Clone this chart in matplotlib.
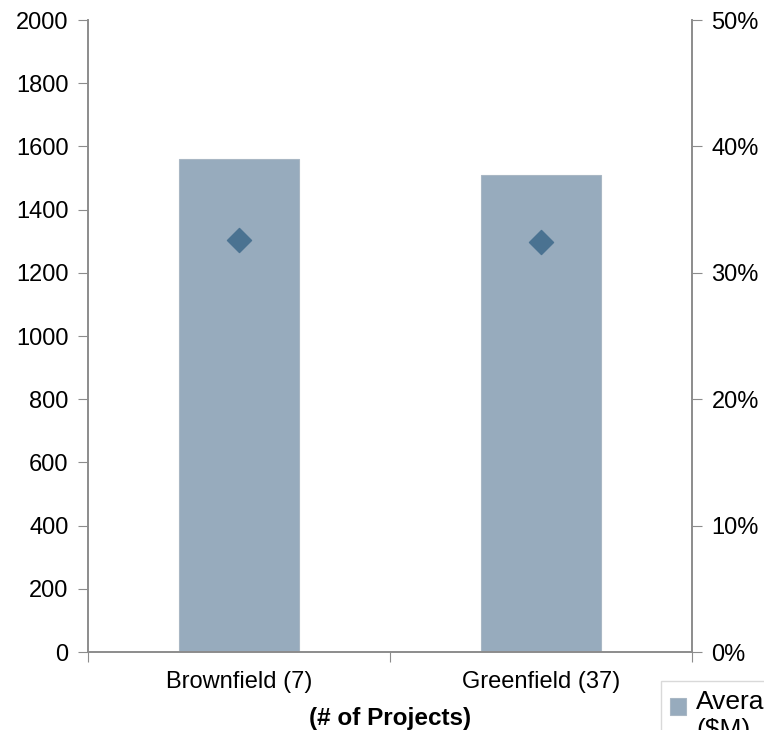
import numpy as np
import matplotlib.pyplot as plt

plt.rcParams['font.family'] = ['Liberation Sans', 'DejaVu Sans']

categories = ['Brownfield (7)', 'Greenfield (37)']
avg_cost = [1560, 1510]          # left axis, $M
overrun_pct = [32.6, 32.4]       # right axis, %
left_ticks = list(range(0, 2001, 200))
right_ticks = [0, 10, 20, 30, 40, 50]

bar_color = '#97abbd'
marker_color = '#4a7291'
axis_color = '#8c8c8c'

fig = plt.figure(figsize=(7.64, 7.30), dpi=100)
ax = fig.add_axes([0.1152, 0.1068, 0.7906, 0.8658])

x = np.arange(len(categories))
bars = ax.bar(x, avg_cost, width=0.4, color=bar_color, edgecolor='#a9b7c4',
              linewidth=0.8, zorder=2)
ax.set_xlim(-0.5, 1.5)
ax.set_ylim(0, 2000)
ax.set_yticks(left_ticks)
ax.set_xticks([-0.5, 0.5, 1.5])
ax.set_xticklabels([])
ax.set_xticks(x, minor=True)
ax.set_xticklabels(categories, minor=True)
ax.tick_params(axis='x', which='minor', length=0, pad=14, labelsize=17)
ax.tick_params(axis='x', which='major', length=7, direction='out', color=axis_color)
ax.tick_params(axis='y', length=7, direction='out', color=axis_color, labelsize=17, pad=7)
ax.set_xlabel('(# of Projects)', fontsize=17.5, fontweight='bold', labelpad=10)

ax2 = ax.twinx()
ax2.set_ylim(0, 50)
ax2.set_yticks(right_ticks)
ax2.set_yticklabels([f'{t}%' for t in right_ticks])
ax2.tick_params(axis='y', length=7, direction='out', color=axis_color, labelsize=17, pad=7)
ax2.scatter(x, overrun_pct, marker='D', s=150, color=marker_color, zorder=3)

for a in (ax, ax2):
    a.spines['top'].set_visible(False)
    for s in ('left', 'right', 'bottom'):
        a.spines[s].set_color(axis_color)
        a.spines[s].set_linewidth(1.2)

leg = fig.legend(handles=[bars], labels=['Average\n($M)'], loc='upper left',
                 bbox_to_anchor=(661 / 764, 1 - 681 / 730), fontsize=19,
                 frameon=True, fancybox=False, edgecolor='#d0d0d0',
                 handlelength=0.58, handleheight=0.58, handletextpad=0.4,
                 borderpad=0.35, borderaxespad=0, labelspacing=0.2)
# lift the swatch up next to the first line of the label
swatch = leg.legend_handles[0]
swatch.set_y(swatch.get_y() + 7)

fig.savefig('out.png', dpi=100)
